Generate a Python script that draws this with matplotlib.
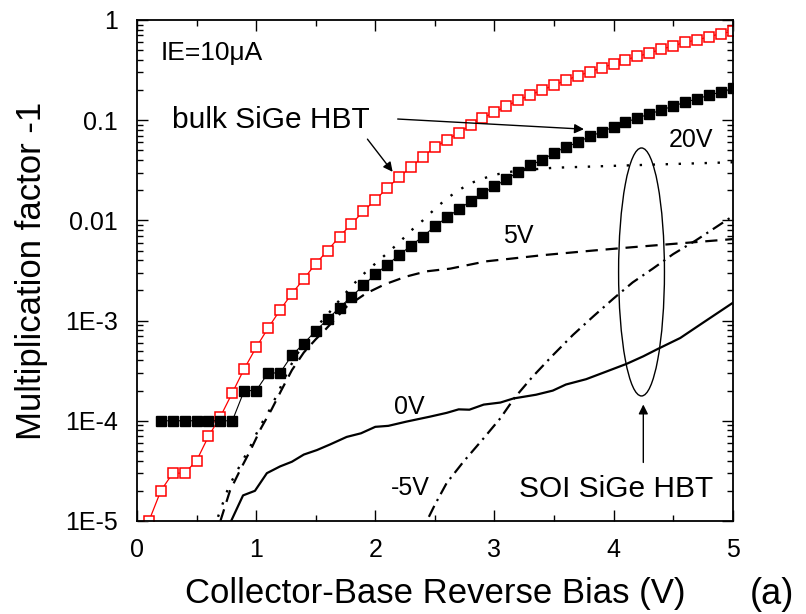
import matplotlib
matplotlib.use('Agg')
import matplotlib.pyplot as plt
from matplotlib.patches import Ellipse
from matplotlib.ticker import FixedLocator, LogLocator, NullFormatter, MultipleLocator

plt.rcParams['font.family'] = ['Liberation Sans', 'DejaVu Sans']

# ---------------------------------------------------------------
# DATA
# ---------------------------------------------------------------
# bulk SiGe HBT, open red squares
red_v = [0.1, 0.2, 0.3, 0.4, 0.5, 0.6, 0.7, 0.8, 0.9, 1.0,
         1.1, 1.2, 1.3, 1.4, 1.5, 1.6, 1.7, 1.8, 1.9, 2.0,
         2.1, 2.2, 2.3, 2.4, 2.5, 2.6, 2.7, 2.8, 2.9, 3.0,
         3.1, 3.2, 3.3, 3.4, 3.5, 3.6, 3.7, 3.8, 3.9, 4.0,
         4.1, 4.2, 4.3, 4.4, 4.5, 4.6, 4.7, 4.8, 4.9, 5.0]
red_m = [1.0e-5, 2.0e-5, 3.0e-5, 3.0e-5, 4.0e-5, 7.0e-5, 1.1e-4, 1.9e-4, 3.3e-4, 5.4e-4,
         8.4e-4, 1.27e-3, 1.86e-3, 2.6e-3, 3.7e-3, 5.0e-3, 6.9e-3, 9.2e-3, 1.23e-2, 1.6e-2,
         2.1e-2, 2.7e-2, 3.4e-2, 4.3e-2, 5.4e-2, 6.3e-2, 7.5e-2, 8.9e-2, 0.105, 0.12,
         0.138, 0.158, 0.178, 0.20, 0.223, 0.25, 0.277, 0.303, 0.333, 0.365,
         0.40, 0.432, 0.467, 0.51, 0.55, 0.60, 0.63, 0.68, 0.73, 0.77]

# bulk SiGe HBT, filled black squares
blk_v = [0.2, 0.3, 0.4, 0.5, 0.6, 0.7, 0.8, 0.9, 1.0,
         1.1, 1.2, 1.3, 1.4, 1.5, 1.6, 1.7, 1.8, 1.9, 2.0,
         2.1, 2.2, 2.3, 2.4, 2.5, 2.6, 2.7, 2.8, 2.9, 3.0,
         3.1, 3.2, 3.3, 3.4, 3.5, 3.6, 3.7, 3.8, 3.9, 4.0,
         4.1, 4.2, 4.3, 4.4, 4.5, 4.6, 4.7, 4.8, 4.9, 5.0]
blk_m = [1e-4, 1e-4, 1e-4, 1e-4, 1e-4, 1e-4, 1e-4, 2.0e-4, 2.0e-4,
         3.0e-4, 3.0e-4, 4.5e-4, 5.9e-4, 7.9e-4, 1.03e-3, 1.35e-3, 1.73e-3, 2.24e-3, 2.9e-3,
         3.6e-3, 4.5e-3, 5.6e-3, 6.9e-3, 8.7e-3, 1.07e-2, 1.29e-2, 1.55e-2, 1.86e-2, 2.18e-2,
         2.57e-2, 3.05e-2, 3.55e-2, 4.0e-2, 4.7e-2, 5.4e-2, 6.0e-2, 6.9e-2, 7.6e-2, 8.6e-2,
         9.5e-2, 0.105, 0.115, 0.126, 0.138, 0.151, 0.163, 0.177, 0.191, 0.207]

# SOI SiGe HBT, substrate bias 20V (dotted)
s20_v = [0.68, 0.77, 0.86, 0.95, 1.03, 1.12, 1.20, 1.28, 1.37, 1.48, 1.6, 1.7, 1.8, 1.9,
         2.0, 2.1, 2.2, 2.3, 2.4, 2.5, 2.6, 2.7, 2.8, 2.9, 3.0, 3.2, 3.5, 4.0, 4.5, 5.0]
s20_m = [1.1e-5, 2.2e-5, 3.5e-5, 5.5e-5, 8.7e-5, 1.33e-4, 2.1e-4, 3.4e-4, 5.2e-4, 8.0e-4,
         1.15e-3, 1.6e-3, 2.2e-3, 2.9e-3, 3.7e-3, 4.7e-3, 6.0e-3, 7.9e-3, 1.0e-2, 1.3e-2,
         1.65e-2, 2.0e-2, 2.35e-2, 2.6e-2, 2.85e-2, 3.15e-2, 3.35e-2, 3.5e-2, 3.65e-2, 3.8e-2]

# SOI SiGe HBT, 5V (dashed)
s5_v = [0.70, 0.78, 0.87, 0.96, 1.04, 1.13, 1.21, 1.30, 1.40, 1.50, 1.58, 1.76, 1.92,
        2.08, 2.26, 2.43, 2.63, 2.93, 3.18, 3.41, 3.83, 4.16, 4.56, 5.0]
s5_m = [1.0e-5, 2.0e-5, 3.3e-5, 5.3e-5, 8.4e-5, 1.3e-4, 2.0e-4, 3.2e-4, 4.8e-4, 6.5e-4,
        8.1e-4, 1.38e-3, 1.86e-3, 2.3e-3, 2.75e-3, 3.1e-3, 3.3e-3, 3.9e-3, 4.2e-3, 4.5e-3,
        5.0e-3, 5.4e-3, 5.9e-3, 6.5e-3]

# SOI SiGe HBT, 0V (solid)
s0_v = [0.79, 0.89, 0.99, 1.09, 1.2, 1.3, 1.4, 1.51, 1.62, 1.76, 1.88, 2.0, 2.11, 2.26,
        2.46, 2.6, 2.7, 2.79, 2.91, 3.05, 3.16, 3.35, 3.49, 3.6, 3.77, 3.94, 4.11, 4.25,
        4.37, 4.56, 4.75, 5.0]
s0_m = [1.0e-5, 1.8e-5, 2.0e-5, 3.0e-5, 3.5e-5, 3.9e-5, 4.6e-5, 5.1e-5, 5.8e-5, 6.9e-5,
        7.5e-5, 8.7e-5, 8.9e-5, 9.8e-5, 1.1e-4, 1.2e-4, 1.3e-4, 1.29e-4, 1.45e-4, 1.52e-4,
        1.67e-4, 1.82e-4, 2.0e-4, 2.3e-4, 2.6e-4, 3.1e-4, 3.7e-4, 4.4e-4, 5.2e-4, 6.7e-4,
        9.5e-4, 1.5e-3]

# SOI SiGe HBT, -5V (dash-dot)
sm5_v = [2.45, 2.5, 2.6, 2.74, 2.91, 3.05, 3.17, 3.32, 3.49, 3.66, 3.83, 4.0, 4.16,
         4.33, 4.5, 4.69, 5.0]
sm5_m = [1.1e-5, 1.45e-5, 2.4e-5, 3.9e-5, 6.7e-5, 1.06e-4, 1.7e-4, 2.75e-4, 4.5e-4,
         7.2e-4, 1.1e-3, 1.66e-3, 2.4e-3, 3.3e-3, 4.6e-3, 6.3e-3, 1.1e-2]

ytick_vals = [1e-5, 1e-4, 1e-3, 1e-2, 1e-1, 1]
ytick_lbls = ['1E-5', '1E-4', '1E-3', '0.01', '0.1', '1']

# ---------------------------------------------------------------
# FIGURE
# ---------------------------------------------------------------
fig = plt.figure(figsize=(8.06, 6.14), dpi=100)
ax = fig.add_axes([0.170, 0.1515, 0.739, 0.816])

ax.plot(red_v, red_m, color='red', lw=0.9, marker='s', ms=7.8,
        mfc='white', mec='red', mew=1.1)
ax.plot(blk_v, blk_m, color='black', lw=0.8, marker='s', ms=7.8,
        mfc='black', mec='black')

ax.plot(s20_v, s20_m, color='black', lw=1.7, ls=(0, (1, 4.5)))
ax.plot(s5_v, s5_m, color='black', lw=1.6, ls=(0, (5.5, 3.5)))
ax.plot(s0_v, s0_m, color='black', lw=1.6, ls='-')
ax.plot(sm5_v, sm5_m, color='black', lw=1.6, ls=(0, (5.5, 2.5, 1, 2.5)))

ax.set_yscale('log')
ax.set_xlim(0, 5)
ax.set_ylim(1e-5, 1)
ax.yaxis.set_major_locator(FixedLocator(ytick_vals))
ax.set_yticklabels(ytick_lbls)
ax.yaxis.set_minor_locator(LogLocator(base=10, subs=range(2, 10), numticks=20))
ax.yaxis.set_minor_formatter(NullFormatter())
ax.xaxis.set_major_locator(MultipleLocator(1))
ax.xaxis.set_minor_locator(MultipleLocator(0.5))

ax.tick_params(which='both', direction='in', top=True, right=True,
               labelsize=18, width=1.0)
ax.tick_params(axis='x', pad=12)
ax.tick_params(axis='y', pad=14)
ax.tick_params(which='major', length=8)
ax.tick_params(which='minor', length=4)
for sp in ax.spines.values():
    sp.set_linewidth(1.3)

ax.set_xlabel('Collector-Base Reverse Bias (V)', fontsize=25, labelpad=11)
ax.set_ylabel('Multiplication factor -1', fontsize=25, labelpad=12)

# text labels
ax.text(0.039, 0.935, 'IE=10\u03bcA', transform=ax.transAxes, fontsize=19,
        ha='left', va='center')
ax.text(0.058, 0.80, 'bulk SiGe HBT', transform=ax.transAxes, fontsize=21.5,
        ha='left', va='center')
ax.text(0.93, 0.76, '20V', transform=ax.transAxes, fontsize=18, ha='center', va='center')
ax.text(0.64, 0.568, '5V', transform=ax.transAxes, fontsize=18, ha='center', va='center')
ax.text(0.457, 0.227, '0V', transform=ax.transAxes, fontsize=18, ha='center', va='center')
ax.text(0.458, 0.066, '-5V', transform=ax.transAxes, fontsize=18, ha='center', va='center')
ax.text(0.805, 0.064, 'SOI SiGe HBT', transform=ax.transAxes, fontsize=21.5,
        ha='center', va='center')

# arrows
arw = dict(arrowstyle='-|>', color='black', lw=1.0, mutation_scale=14)
ax.annotate('', xy=(2.16, 0.029), xytext=(1.92, 0.068), arrowprops=arw)
ax.annotate('', xy=(3.775, 0.081), xytext=(2.165, 0.103), arrowprops=arw)
ax.annotate('', xy=(4.25, 1.55e-4), xytext=(4.25, 3.6e-5), arrowprops=arw)

ax.add_patch(Ellipse((0.847, 0.497), 0.077, 0.495, transform=ax.transAxes,
                     fill=False, ec='black', lw=1.0))

fig.text(0.958, 0.032, '(a)', fontsize=26, ha='center', va='center')

fig.savefig('out.png', dpi=100)
